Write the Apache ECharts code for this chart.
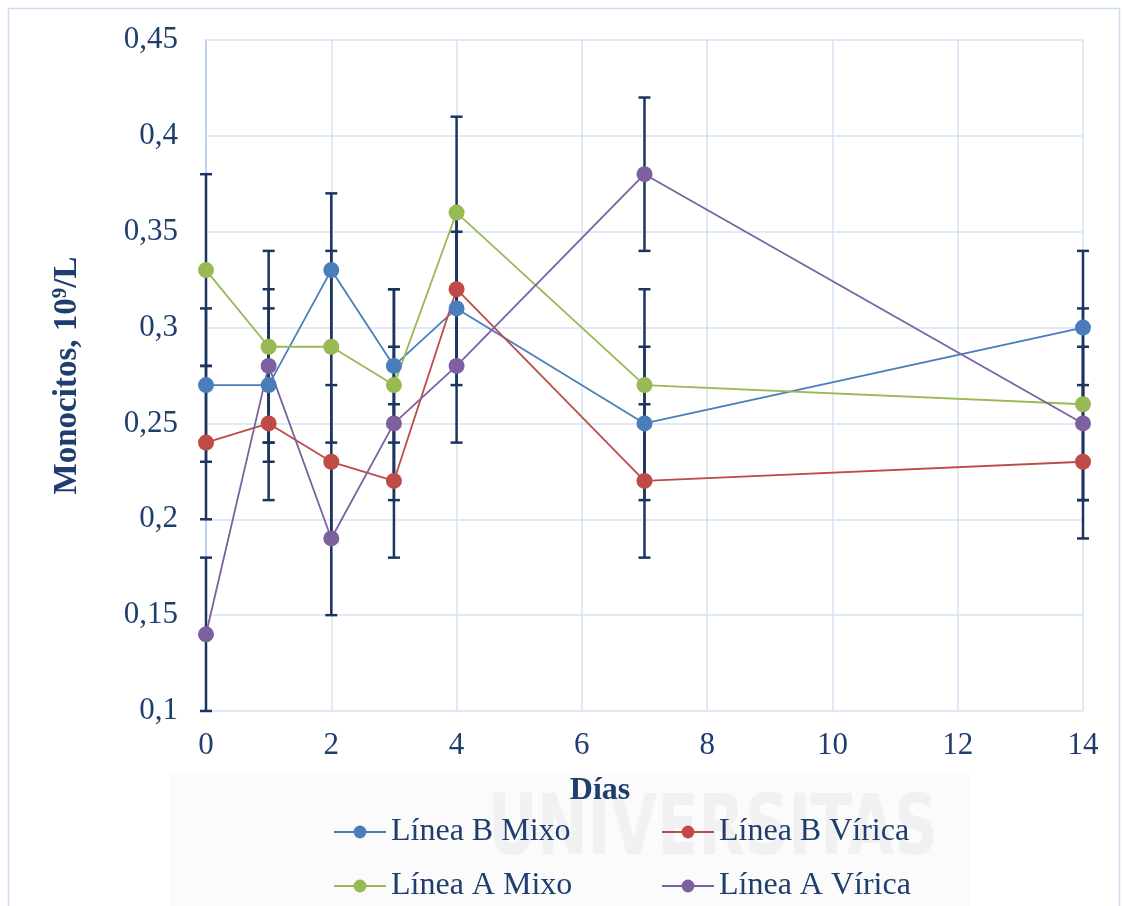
<!DOCTYPE html>
<html>
<head>
<meta charset="utf-8">
<script src="https://cdn.jsdelivr.net/npm/echarts@6/dist/echarts.min.js"></script>
<style>
  html, body { margin: 0; padding: 0; background: #ffffff; }
  #chart { width: 1123px; height: 906px; }
</style>
</head>
<body>
<div id="chart"></div>
<script>
// Días de muestreo
const dias = [0, 1, 2, 3, 4, 7, 14];

// Monocitos (10^9/L), media por grupo
const lineaBMixo   = [0.27, 0.27, 0.33, 0.28, 0.31, 0.25, 0.30];
const lineaBVirica = [0.24, 0.25, 0.23, 0.22, 0.32, 0.22, 0.23];
const lineaAMixo   = [0.33, 0.29, 0.29, 0.27, 0.36, 0.27, 0.26];
const lineaAVirica = [0.14, 0.28, 0.19, 0.25, 0.28, 0.38, 0.25];

// Desviación (barras de error simétricas)
const errBMixo   = [0.04, 0.04, 0.04, 0.04, 0.04, 0.04, 0.04];
const errBVirica = [0.04, 0.04, 0.04, 0.04, 0.04, 0.04, 0.04];
const errAMixo   = [0.05, 0.05, 0.05, 0.05, 0.05, 0.05, 0.05];
const errAVirica = [0.04, 0.04, 0.04, 0.04, 0.04, 0.04, 0.04];

// Etiquetas
const nombres = ['Línea B Mixo', 'Línea B Vírica', 'Línea A Mixo', 'Línea A Vírica'];
const colores = ['#4A7EBB', '#BE4B48', '#98B954', '#7D60A0'];
const medias = [lineaBMixo, lineaBVirica, lineaAMixo, lineaAVirica];
const errores = [errBMixo, errBVirica, errAMixo, errAVirica];

const FONT = 'Liberation Serif';
const TEXT = '#1F3D6E';
const GRID = '#D6E2F3';
const ERRC = '#1C3461';

function renderError(params, api) {
  const x = api.value(0);
  const lo = api.coord([x, api.value(1)]);
  const hi = api.coord([x, api.value(2)]);
  const half = 6;
  const style = { stroke: ERRC, lineWidth: 2.5 };
  return {
    type: 'group',
    children: [
      { type: 'line', shape: { x1: hi[0], y1: hi[1], x2: lo[0], y2: lo[1] }, style },
      { type: 'line', shape: { x1: hi[0] - half, y1: hi[1], x2: hi[0] + half, y2: hi[1] }, style },
      { type: 'line', shape: { x1: lo[0] - half, y1: lo[1], x2: lo[0] + half, y2: lo[1] }, style }
    ]
  };
}

const series = [];
// Barras de error
medias.forEach((vals, i) => {
  series.push({
    type: 'custom',
    name: nombres[i] + ' error',
    renderItem: renderError,
    z: 1,
    silent: true,
    data: dias.map((d, k) => [d, +(vals[k] - errores[i][k]).toFixed(3), +(vals[k] + errores[i][k]).toFixed(3)])
  });
});
// Líneas con marcadores
medias.forEach((vals, i) => {
  series.push({
    type: 'line',
    name: nombres[i],
    z: 3,
    symbol: 'circle',
    symbolSize: 16,
    color: colores[i],
    lineStyle: { width: 1.8, color: colores[i] },
    itemStyle: { color: colores[i] },
    data: dias.map((d, k) => [d, vals[k]])
  });
});

const chart = echarts.init(document.getElementById('chart'), null, { renderer: 'canvas' });
chart.setOption({
  animation: false,
  backgroundColor: '#ffffff',
  textStyle: { fontFamily: FONT },
  grid: { left: 206, right: 40, top: 40, bottom: 195 },
  graphic: [
    {
      type: 'rect', z: -10, silent: true,
      shape: { x: 8.5, y: 8.5, width: 1111, height: 920 },
      style: { fill: null, stroke: '#CBDDF3', lineWidth: 1.5 }
    },
    {
      type: 'rect', z: -9, silent: true,
      shape: { x: 170, y: 772, width: 800, height: 134 },
      style: { fill: '#FBFBFB' }
    },
    {
      type: 'text', z: -8, silent: true, x: 488, y: 790, scaleX: 0.72,
      style: { text: 'UNIVERSITAS', font: 'bold 84px "DejaVu Sans"', fill: '#F1F1F1' }
    }
  ],
  legend: {
    data: nombres,
    left: 333,
    top: 815,
    width: 680,
    padding: 0,
    itemWidth: 52,
    itemHeight: 16,
    itemGap: 20,
    textStyle: { fontFamily: FONT, fontSize: 32, lineHeight: 34, color: TEXT, width: 250 }
  },
  xAxis: {
    type: 'value',
    min: 0, max: 14, interval: 2,
    name: 'Días',
    nameLocation: 'middle',
    nameGap: 64,
    nameTextStyle: { fontFamily: FONT, fontSize: 32, fontWeight: 'bold', color: TEXT, padding: [0, 89, 0, 0] },
    axisLine: { show: false },
    axisTick: { show: false },
    axisLabel: { fontFamily: FONT, fontSize: 31, color: TEXT, margin: 19 },
    splitLine: { show: true, lineStyle: { color: GRID, width: 1.5 } }
  },
  yAxis: {
    type: 'value',
    min: 0.1, max: 0.45, interval: 0.05,
    name: 'Monocitos, 10{sup|9}/L',
    nameLocation: 'middle',
    nameGap: 121,
    nameTextStyle: {
      fontFamily: FONT, fontSize: 33, fontWeight: 'bold', color: TEXT,
      rich: { sup: { fontFamily: FONT, fontSize: 21, fontWeight: 'bold', color: TEXT, verticalAlign: 'top', padding: [0, 0, 14, 0] } }
    },
    axisLine: { show: true, lineStyle: { color: '#AFC8EA', width: 1.5 } },
    axisTick: { show: false },
    axisLabel: {
      fontFamily: FONT, fontSize: 31, color: TEXT, margin: 28,
      formatter: v => String(Math.round(v * 100) / 100).replace('.', ',')
    },
    splitLine: { show: true, lineStyle: { color: GRID, width: 1.5 } }
  },
  series
});
</script>
</body>
</html>
